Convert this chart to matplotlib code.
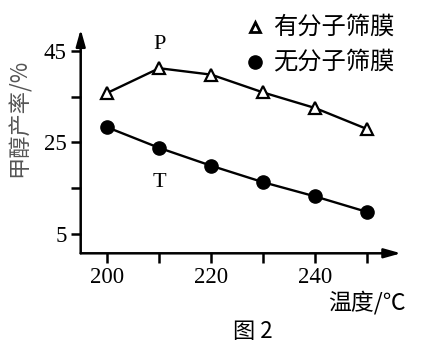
import matplotlib
matplotlib.use("Agg")
import matplotlib.pyplot as plt
from matplotlib.lines import Line2D

temps = [200, 210, 220, 230, 240, 250]
with_sieve = [35.8, 41.2, 39.8, 35.9, 32.5, 27.9]
without_sieve = [28.3, 23.8, 19.9, 16.3, 13.2, 9.8]
legend_labels = ["有分子筛膜", "无分子筛膜"]
x_ticks = [200, 210, 220, 230, 240, 250]
x_ticklabels = ["200", "", "220", "", "240", ""]
y_ticks = [5, 15, 25, 35, 45]
y_ticklabels = ["5", "", "25", "", "45"]

CJK = ["Noto Sans CJK SC", "DejaVu Sans"]
SERIF = ["Liberation Serif", "DejaVu Serif"]

W, H = 424, 354
fig = plt.figure(figsize=(W / 100, H / 100), dpi=100)
ax = fig.add_axes([80.7 / W, 1 - 253.3 / H, (401 - 80.7) / W, (253.3 - 29.3) / H])
ax.set_xlim(194.9, 256.5)
ax.set_ylim(0.78, 49.7)

ax.plot(temps, with_sieve, color="black", lw=1.7, marker="^", ms=9,
        mfc="white", mec="black", mew=1.6, zorder=3)
ax.plot(temps, without_sieve, color="black", lw=1.7, marker="o", ms=9.5,
        mfc="black", mec="black", zorder=3)

for s in ax.spines.values():
    s.set_visible(False)
arrow = dict(arrowstyle="-|>,head_length=1.0,head_width=0.28",
             color="black", lw=1.8, shrinkA=0, shrinkB=0)
ax.annotate("", xy=(1, 0), xytext=(0, 0), xycoords="axes fraction", arrowprops=arrow)
ax.annotate("", xy=(0, 1), xytext=(0, 0), xycoords="axes fraction", arrowprops=arrow)

ax.set_xticks(x_ticks)
ax.set_xticklabels(x_ticklabels, fontfamily=SERIF, fontsize=16.5)
ax.set_yticks(y_ticks)
ax.set_yticklabels(y_ticklabels, fontfamily=SERIF, fontsize=16.5)
ax.tick_params(axis="both", direction="out", length=7, width=1.8, pad=3, colors="black")

ax.text(210, 46.3, "P", fontfamily=SERIF, fontsize=16, ha="center", va="center")
ax.text(210, 16.2, "T", fontfamily=SERIF, fontsize=16, ha="center", va="center")

# legend
fig.add_artist(Line2D([255 / W], [1 - 26.7 / H], marker="^", ms=7, mfc="white",
                      mec="black", mew=2, ls="none", transform=fig.transFigure))
fig.add_artist(Line2D([255 / W], [1 - 61.7 / H], marker="o", ms=9.5, mfc="black",
                      mec="black", ls="none", transform=fig.transFigure))
fig.text(273 / W, 1 - 26.7 / H, legend_labels[0], fontfamily=CJK, fontsize=17.5,
         ha="left", va="center")
fig.text(273 / W, 1 - 61.7 / H, legend_labels[1], fontfamily=CJK, fontsize=17.5,
         ha="left", va="center")

fig.text(19 / W, 1 - 118 / H, "甲醇产率/%", fontfamily=CJK, fontsize=16,
         rotation=90, ha="center", va="center", color="#555555")
fig.text(367 / W, 1 - 303 / H, "温度/℃", fontfamily=CJK, fontsize=16.5,
         ha="center", va="center")
fig.text(253 / W, 1 - 331 / H, "图 2", fontfamily=CJK, fontsize=16,
         ha="center", va="center")

fig.savefig("out.png", dpi=100)
